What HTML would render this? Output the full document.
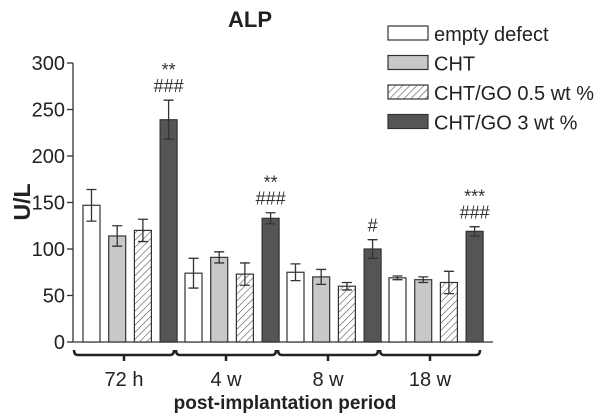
<!DOCTYPE html>
<html><head><meta charset="utf-8"><style>
html,body{margin:0;padding:0;background:#fff;}
svg{display:block;font-family:"Liberation Sans",sans-serif;}
</style></head><body>
<svg id="c" width="614" height="415" viewBox="0 0 614 415">
<defs><pattern id="hatch" width="5" height="5" patternUnits="userSpaceOnUse" patternTransform="rotate(45)"><rect width="5" height="5" fill="#fff"/><line x1="0" y1="0" x2="0" y2="5" stroke="#555" stroke-width="1.2"/></pattern></defs>
<text x="250" y="27" font-size="22" font-weight="bold" text-anchor="middle" fill="#222">ALP</text>
<text transform="translate(30,202) rotate(-90)" font-size="23" font-weight="bold" text-anchor="middle" fill="#222">U/L</text>
<text x="285" y="409" font-size="19" font-weight="bold" text-anchor="middle" fill="#222">post-implantation period</text>
<g id="axes"></g><g id="bars"></g>
<g id="legend"></g>
</svg>
<script>
const categories=["72 h","4 w","8 w","18 w"];
const seriesNames=["empty defect","CHT","CHT/GO 0.5 wt %","CHT/GO 3 wt %"];
const emptyVals=[147,74,75,69];
const chtVals=[114,91,70,67];
const go05Vals=[120,73,60,64];
const go3Vals=[239,133,100,119];
const emptyErr=[17,16,9,2];
const chtErr=[11,6,8,3];
const go05Err=[12,12,4,12];
const go3Err=[21,6,10,5];
const starLabels=["**","**","","***"];
const hashLabels=["###","###","#","###"];
const yTicks=[0,50,100,150,200,250,300];
const NS="http://www.w3.org/2000/svg";
function mk(t,a,p){const e=document.createElementNS(NS,t);for(const k in a)e.setAttribute(k,a[k]);p.appendChild(e);return e;}
const y=v=>342-v*0.93;
const x0=73,x1=493;
const gx=i=>83+i*102;
const bx=(i,s)=>gx(i)+s*25.7;
const fills=["#fff","#c8c8c8","url(#hatch)","#555"];
const vals=[emptyVals,chtVals,go05Vals,go3Vals];
const errs=[emptyErr,chtErr,go05Err,go3Err];
const ax=document.getElementById('axes');
let l=mk('line',{x1:x0,y1:y(0),x2:x1,y2:y(0),stroke:'#333','stroke-width':1.3},ax);

l=mk('line',{x1:x0,y1:y(300),x2:x0,y2:y(0),stroke:'#333','stroke-width':1.3},ax);

yTicks.forEach(v=>{
 mk('line',{x1:x0-6,y1:y(v),x2:x0,y2:y(v),stroke:'#333','stroke-width':1.3},ax);
 const t=mk('text',{x:x0-8,y:y(v)+7,'font-size':20,'text-anchor':'end',fill:'#222'},ax);
 t.textContent=v;
 
});
const bg=document.getElementById('bars');
categories.forEach((c,i)=>{
 const a=gx(i)-9,b=gx(i)+91;
 const br=mk('path',{d:`M${a} 350 Q${a} 355 ${a+4} 355 H${b-4} Q${b} 355 ${b} 350 M${(a+b)/2} 355 V361`,stroke:'#222','stroke-width':2.5,fill:'none'},bg);
 
 const t=mk('text',{x:(a+b)/2,y:386,'font-size':20,'text-anchor':'middle',fill:'#222'},bg);
 t.textContent=c;
 
 for(let s=0;s<4;s++){
  const v=vals[s][i],e=errs[s][i],X=bx(i,s);
  const r=mk('rect',{x:X,y:y(v),width:17,height:y(0)-y(v),fill:fills[s],stroke:'#333','stroke-width':1.2},bg);
  
  const cx=X+8.5;
  const eb=mk('path',{d:`M${cx} ${y(v+e)} V${y(v-e)} M${cx-5} ${y(v+e)} H${cx+5} M${cx-5} ${y(v-e)} H${cx+5}`,stroke:'#333','stroke-width':1.3,fill:'none'},bg);
  
 }
 const cx=bx(i,3)+8.5,top=y(go3Vals[i]+go3Err[i]);
 const h=mk('text',{x:cx,y:top-8,'font-size':18,'text-anchor':'middle',fill:'#333'},bg);
 h.textContent=hashLabels[i];
 
 const st=mk('text',{x:cx,y:top-24,'font-size':18,'text-anchor':'middle',fill:'#333'},bg);
 st.textContent=starLabels[i];
 
});
const lg=document.getElementById('legend');
seriesNames.forEach((n,s)=>{
 const yy=26+s*29.5;
 const r=mk('rect',{x:388,y:yy,width:40,height:14,fill:fills[s],stroke:'#333','stroke-width':1.2},lg);
 
 const t=mk('text',{x:434,y:yy+15,'font-size':20,fill:'#222'},lg);
 t.textContent=n;
 
});
</script>
</body></html>
